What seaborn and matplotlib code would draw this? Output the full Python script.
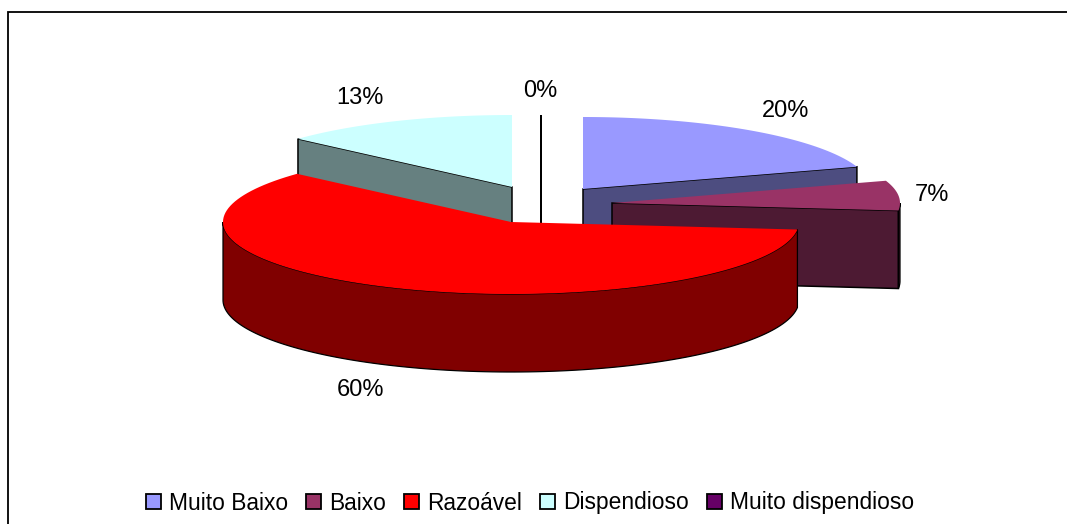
import numpy as np
import matplotlib
matplotlib.use("Agg")
import matplotlib.pyplot as plt
from matplotlib.patches import Patch, Polygon
import seaborn as sns

# dados
categorias = ["Muito Baixo", "Baixo", "Razoável", "Dispendioso", "Muito dispendioso"]
valores = [3, 1, 9, 2, 0]
cores = ["#9999FF", "#993366", "#FF0000", "#CCFFFF", "#660066"]

# aparencia da pizza 3D (pixels)
centro = (511, 222)
rx, ry = 288, 72
altura = 78
explode = [(72, -33), (101, -19), (0, 0), (1, -35), (30, -35)]
ordem = [4, 3, 0, 1, 2]  # do fundo para a frente
pos_rotulos = [(786, 111), (932, 195), (360, 390), (360, 98), (540, 91)]

sns.set_theme(style="white")
plt.rcParams["font.family"] = ["Liberation Sans", "DejaVu Sans"]
paleta = sns.color_palette(cores)

fig, ax = plt.subplots(figsize=(10.67, 5.24), dpi=100)
fig.subplots_adjust(0, 0, 1, 1)
ax.set_xlim(0, 1067)
ax.set_ylim(524, 0)
ax.axis("off")

# moldura: so topo e esquerda aparecem no recorte
ax.plot([7.5, 7.5, 1067], [524, 11.5, 11.5], color="black", lw=1.3, zorder=0,
        solid_joinstyle="miter")


def arco(cx, cy, a0, a1):
    # angulo em graus, sentido horario a partir do topo
    t = np.radians(np.linspace(a0, a1, 120))
    return np.column_stack([cx + rx * np.sin(t), cy - ry * np.cos(t)])


total = sum(valores)
fim = np.cumsum(valores) / total * 360
inicio = fim - np.array(valores) / total * 360

z = 2
for i in ordem:
    cx = centro[0] + explode[i][0]
    cy = centro[1] + explode[i][1]
    a0, a1 = inicio[i], fim[i]
    escura = tuple(c * 0.5 for c in paleta[i])
    topo = np.vstack([[cx, cy], arco(cx, cy, a0, a1)])

    # face do corte
    if a1 < 180 or a0 > 180:
        ang = a1 if a1 < 180 else a0
        p = arco(cx, cy, ang, ang)[0]
        face = [[cx, cy], p, p + [0, altura], [cx, cy + altura]]
        ax.add_patch(Polygon(face, fc=escura, ec="black", lw=1.1, joinstyle="miter", zorder=z))
        z += 1

    # lateral curva
    b0, b1 = max(a0, 90), min(a1, 270)
    if b1 > b0:
        cima = arco(cx, cy, b0, b1)
        baixo = cima[::-1] + [0, altura]
        ax.add_patch(Polygon(np.vstack([cima, baixo]), fc=escura, ec="black", lw=0.9, zorder=z))
        z += 1

    if valores[i] > 0:
        ax.add_patch(Polygon(topo, fc=paleta[i], ec="none", zorder=z))
        z += 1

for v, (x, y) in zip(valores, pos_rotulos):
    ax.text(x, y, f"{v / total:.0%}", ha="center", va="center", fontsize=17, color="black", zorder=z)

handles = [Patch(fc=c, ec="black", lw=1.3) for c in paleta]
ax.legend(handles, categorias, loc="center", bbox_to_anchor=(530 / 1067, 1 - 503 / 524),
          ncol=5, frameon=False, fontsize=16.4, handlelength=0.66, handleheight=0.66,
          handletextpad=0.35, columnspacing=0.8, borderpad=0, labelcolor="black")

fig.savefig("out.png", dpi=100)
